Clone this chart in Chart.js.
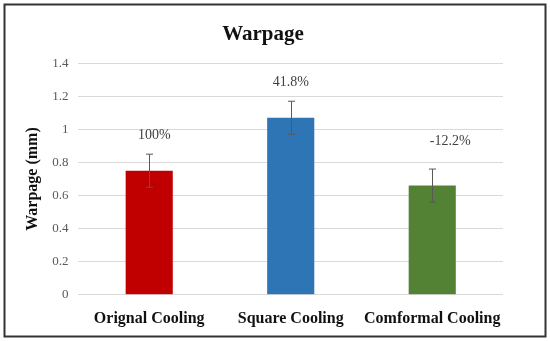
<!DOCTYPE html>
<html>
<head>
<meta charset="utf-8">
<script src="https://cdn.jsdelivr.net/npm/chart.js@4/dist/chart.umd.min.js"></script>
<style>
  html, body { margin: 0; padding: 0; background: #fff; }
  #wrap { position: relative; width: 550px; height: 341px; }
</style>
</head>
<body>
<div id="wrap"><canvas id="warpChart" width="550" height="341"></canvas></div>
<script>
// data
let categories = ["Orignal Cooling", "Square Cooling", "Comformal Cooling"];
let warpage = [0.75, 1.07, 0.66];
let errors = [0.1, 0.1, 0.1];
let percentLabels = ["100%", "41.8%", "-12.2%"];
let barColors = ["#C00000", "#2E75B6", "#548235"];

const serif = "'Liberation Serif', 'DejaVu Serif', serif";

// frame round the whole figure
const framePlugin = {
    id: 'frame',
    beforeDraw(chart) {
        let ctx = chart.ctx;
        ctx.save();
        ctx.fillStyle = '#fff';
        ctx.fillRect(0, 0, chart.width, chart.height);
        ctx.strokeStyle = '#333';
        ctx.lineWidth = 2;
        ctx.strokeRect(4.5, 4.5, 541, 332);
        ctx.restore();
    }
};

// error bars and the percent labels above them
const errorPlugin = {
    id: 'errorBars',
    afterDatasetsDraw(chart) {
        let ctx = chart.ctx;
        let y = chart.scales.y;
        let meta = chart.getDatasetMeta(0);
        let nudge = [5, 0, 18];
        ctx.save();
        meta.data.forEach((bar, i) => {
            let top = y.getPixelForValue(warpage[i] + errors[i]);
            let bottom = y.getPixelForValue(warpage[i] - errors[i]);
            let x = Math.round(bar.x) + 0.5;
            ctx.strokeStyle = '#595959';
            ctx.lineWidth = 1;
            ctx.beginPath();
            ctx.moveTo(x, top);
            ctx.lineTo(x, bottom);
            ctx.moveTo(x - 3.5, top);
            ctx.lineTo(x + 3.5, top);
            ctx.moveTo(x - 3.5, bottom);
            ctx.lineTo(x + 3.5, bottom);
            ctx.stroke();

            ctx.fillStyle = '#404040';
            ctx.font = "14px " + serif;
            ctx.textAlign = 'center';
            ctx.textBaseline = 'middle';
            ctx.fillText(percentLabels[i], bar.x + nudge[i], top - (i == 2 ? 28 : 19));
        });
        ctx.restore();
    }
};

let ctx = document.getElementById('warpChart').getContext('2d');
let chart = new Chart(ctx, {
    type: 'bar',
    data: {
        labels: categories,
        datasets: [{
            data: warpage,
            backgroundColor: barColors,
            borderWidth: 0,
            barPercentage: 0.333,
            categoryPercentage: 1.0
        }]
    },
    options: {
        responsive: false,
        animation: false,
        layout: { padding: { left: 23, right: 47, top: 20, bottom: 7 } },
        plugins: {
            legend: { display: false },
            tooltip: { enabled: false },
            title: {
                display: true,
                text: 'Warpage',
                color: '#111',
                font: { family: serif, size: 21, weight: 'bold' },
                padding: { top: 2, bottom: 16 }
            }
        },
        scales: {
            x: {
                grid: { display: false },
                border: { display: false },
                ticks: {
                    color: '#111',
                    font: { family: serif, size: 16, weight: 'bold' },
                    padding: 6,
                    maxRotation: 0,
                    minRotation: 0,
                    autoSkip: false
                }
            },
            y: {
                min: 0,
                max: 1.4,
                ticks: {
                    stepSize: 0.2,
                    color: '#595959',
                    font: { family: serif, size: 13 },
                    padding: 10,
                    callback: v => String(+v.toFixed(1))
                },
                grid: { color: '#d9d9d9', drawTicks: false },
                border: { display: false },
                title: {
                    display: true,
                    text: 'Warpage (mm)',
                    color: '#111',
                    font: { family: serif, size: 16, weight: 'bold' },
                    padding: 0
                }
            }
        }
    },
    plugins: [framePlugin, errorPlugin]
});
</script>
</body>
</html>
